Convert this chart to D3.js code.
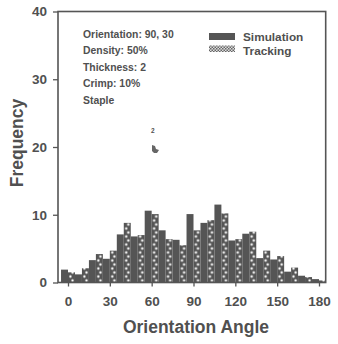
<!DOCTYPE html>
<html><head><meta charset="utf-8">
<script src="https://cdn.jsdelivr.net/npm/d3@7"></script>
<style>body{margin:0;background:#fff}svg{display:block}text{font-family:"Liberation Sans",Arial,sans-serif;font-weight:bold;fill:#505050}</style>
</head><body><svg id="c" width="338" height="344"></svg>
<script>
const binCenters = [0,10,20,30,40,50,60,70,80,90,100,110,120,130,140,150,160,170,180];
const simulation = [1.9,1.2,3.3,3.5,7.1,6.8,10.6,7.7,6.3,10.1,8.8,11.5,6.2,7.2,3.6,3.4,1.6,1.0,0.5];
const tracking   = [1.5,2.1,4.2,4.7,8.8,7.0,10.1,6.4,5.5,7.7,9.2,10.2,6.4,7.5,4.7,3.9,2.2,0.8,0.3];
const xTicks = [0,30,60,90,120,150,180];
const yTicks = [0,10,20,30,40];
const notes = ["Orientation:  90, 30","Density:  50%","Thickness:  2","Crimp:  10%","Staple"];
const legendItems = ["Simulation","Tracking"];

const col = "#555";
const svg = d3.select("#c");
const x = d3.scaleLinear().domain([0,180]).range([68,319]);
const y = d3.scaleLinear().domain([0,40]).range([282.5,11.5]);
const L = x(-7.17), R = x(184.8);
const half = x(5)-x(0);

const defs = svg.append("defs");
const p = defs.append("pattern").attr("id","dots").attr("patternUnits","userSpaceOnUse")
  .attr("x", x(0)).attr("y", y(0)).attr("width", half).attr("height", 8);
p.append("rect").attr("width",half).attr("height",8).attr("fill",col);
p.append("circle").attr("cx",half*0.35).attr("cy",2).attr("r",1.2).attr("fill","#fff");
p.append("circle").attr("cx",half*0.65).attr("cy",6).attr("r",1.2).attr("fill","#fff");
const q = defs.append("pattern").attr("id","chk").attr("patternUnits","userSpaceOnUse")
  .attr("width",3).attr("height",3);
q.append("rect").attr("width",3).attr("height",3).attr("fill","#ddd");
q.append("rect").attr("width",1.5).attr("height",1.5).attr("fill","#666");
q.append("rect").attr("x",1.5).attr("y",1.5).attr("width",1.5).attr("height",1.5).attr("fill","#666");

svg.append("g").selectAll("rect").data(binCenters).join("rect")
  .attr("x",d=>x(d-5)).attr("width",half)
  .attr("y",(d,i)=>y(simulation[i])).attr("height",(d,i)=>y(0)-y(simulation[i]))
  .attr("fill",col);
svg.append("g").selectAll("rect").data(binCenters).join("rect")
  .attr("x",d=>x(d)).attr("width",half)
  .attr("y",(d,i)=>y(tracking[i])).attr("height",(d,i)=>y(0)-y(tracking[i]))
  .attr("fill","url(#dots)");

svg.append("rect").attr("x",L).attr("y",y(40)).attr("width",R-L).attr("height",y(0)-y(40))
  .attr("fill","none").attr("stroke",col).attr("stroke-width",1.6);

const ya = svg.append("g").attr("transform",`translate(${L},0)`)
  .call(d3.axisLeft(y).tickValues(yTicks).tickSize(5).tickPadding(6));
ya.select(".domain").remove();
ya.selectAll("line").attr("stroke",col).attr("stroke-width",1.3);
ya.selectAll("text").attr("font-size",13.5).style("fill","#505050");
const xa = svg.append("g").attr("transform",`translate(0,${y(0)})`)
  .call(d3.axisBottom(x).tickValues(xTicks).tickSize(4).tickPadding(10));
xa.select(".domain").remove();
xa.selectAll("line").attr("stroke",col).attr("stroke-width",1.3);
xa.selectAll("text").attr("font-size",13.5).style("fill","#505050");

svg.append("text").attr("x",196).attr("y",333).attr("text-anchor","middle")
  .attr("font-size",17.5).text("Orientation Angle");
svg.append("text").attr("transform","translate(23,143) rotate(-90)").attr("text-anchor","middle")
  .attr("font-size",17.5).text("Frequency");

svg.append("g").selectAll("text").data(notes).join("text")
  .attr("x",83).attr("y",(d,i)=>37.5+i*16.6).attr("font-size",10.4).text(d=>d);

const lg = svg.append("g");
lg.append("rect").attr("x",209).attr("y",33).attr("width",26).attr("height",7).attr("fill",col);
lg.append("rect").attr("x",209).attr("y",45.5).attr("width",26).attr("height",6.5).attr("fill","url(#chk)");
lg.selectAll("text").data(legendItems).join("text")
  .attr("x",243).attr("y",(d,i)=>41+i*13.5).attr("font-size",11.8).text(d=>d);

svg.append("text").attr("x",151).attr("y",133).attr("font-size",6.5).text("2");
svg.append("path").attr("d","M152,145 l3,1 l1,3 l3,1 l-2,3 l-3,0 l-2,-2 z").attr("fill","#666");
</script></body></html>
